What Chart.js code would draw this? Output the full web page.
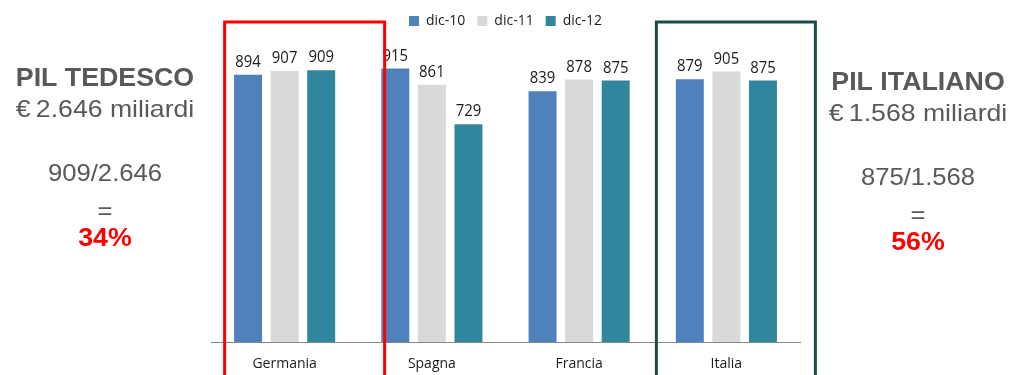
<!DOCTYPE html>
<html lang="it">
<head>
<meta charset="utf-8">
<title>Debito pubblico e PIL</title>
<script src="https://cdn.jsdelivr.net/npm/chart.js@4.4.1/dist/chart.umd.min.js"></script>
<style>
  html, body { margin: 0; padding: 0; background: #fff; }
  #wrap { position: relative; width: 1010px; height: 375px; }
</style>
</head>
<body>
<div id="wrap"><canvas id="chart" width="1010" height="375"></canvas></div>
<script>
/* Debito pubblico per paese (miliardi di euro), tre rilevazioni di fine anno. */
const PAESI = ["Germania", "Spagna", "Francia", "Italia"];
const SERIE = ["dic-10", "dic-11", "dic-12"];
const DIC10 = [894, 915, 839, 879];
const DIC11 = [907, 861, 878, 905];
const DIC12 = [909, 729, 875, 875];
const COLORI = ["#4f81bd", "#d9d9d9", "#31859c"];

// testi laterali: confronto debito / PIL
const BLOCCO_DE = ["PIL TEDESCO", "€\u20092.646 miliardi", "909/2.646", "=", "34%"];
const BLOCCO_IT = ["PIL ITALIANO", "€\u20091.568 miliardi", "875/1.568", "=", "56%"];

const GRIGIO = "#595959";
const SANS = "'Liberation Sans', Arial, sans-serif";
const LBL = "'Open Sans', 'Noto Sans', sans-serif";

// spazio extra sotto la legenda
const spazioLegenda = {
  id: "spazioLegenda",
  beforeInit(chart) {
    const fit = chart.legend.fit;
    chart.legend.fit = function () {
      fit.bind(chart.legend)();
      this.height += 4;
    };
  },
};

const etichette = {
  id: "etichette",
  afterDatasetsDraw(chart) {
    const { ctx } = chart;
    ctx.save();
    ctx.font = `16px ${LBL}`;
    ctx.fillStyle = "#1a1a1a";
    ctx.textAlign = "center";
    ctx.textBaseline = "alphabetic";
    chart.data.datasets.forEach((ds, i) => {
      chart.getDatasetMeta(i).data.forEach((bar, j) => {
        ctx.save();
        ctx.translate(bar.x, bar.y - 7);
        ctx.scale(0.93, 1);
        ctx.fillText(String(ds.data[j]), 0, 0);
        ctx.restore();
      });
    });
    ctx.restore();
  },
};

const riquadri = {
  id: "riquadri",
  afterDraw(chart) {
    const { ctx } = chart;
    const x = chart.scales.x;
    ctx.save();
    ctx.lineWidth = 3;
    // riquadro Germania (rosso) e Italia (scuro)
    const box = (idx, sx, dx, col) => {
      const cx = x.getPixelForValue(idx);
      ctx.strokeStyle = col;
      ctx.strokeRect(cx - sx, 22, sx + dx, 380);
    };
    box(0, 60, 100, "#ff0000");
    box(3, 70, 89, "#1f4a4a");

    const riga = (txt, cx, y, font, col, sx = 1.07) => {
      ctx.save();
      ctx.translate(cx, y);
      ctx.scale(sx, 1);
      ctx.font = font;
      ctx.fillStyle = col;
      ctx.fillText(txt, 0, 0);
      ctx.restore();
    };
    const blocco = (righe, cx, dy) => {
      ctx.textAlign = "center";
      ctx.textBaseline = "alphabetic";
      riga(righe[0], cx, 86 + dy, `bold 25px ${SANS}`, GRIGIO);
      riga(righe[1], cx, 117 + dy, `24px ${SANS}`, GRIGIO, 1.11);
      riga(righe[2], cx, 181 + dy, `24px ${SANS}`, GRIGIO);
      riga(righe[3], cx, 219 + dy, `24px ${SANS}`, GRIGIO);
      riga(righe[4], cx, 246 + dy, `bold 25px ${SANS}`, "#ff0000");
    };
    blocco(BLOCCO_DE, 105, 0);
    blocco(BLOCCO_IT, 918, 4);
    ctx.restore();
  },
};

new Chart(document.getElementById("chart").getContext("2d"), {
  type: "bar",
  data: {
    labels: PAESI,
    datasets: [DIC10, DIC11, DIC12].map((d, i) => ({
      label: SERIE[i], data: d, backgroundColor: COLORI[i],
      borderWidth: 1, borderColor: "rgba(255,255,255,0.4)",
      categoryPercentage: 0.745, barPercentage: 0.82,
    })),
  },
  options: {
    responsive: false, animation: false, devicePixelRatio: 1,
    layout: { padding: { left: 211, right: 210, top: 2, bottom: 0 } },
    plugins: {
      legend: {
        position: "top",
        labels: {
          boxWidth: 10, boxHeight: 10, padding: 12, color: "#1a1a1a",
          font: { family: LBL, size: 14 },
          generateLabels: (chart) => chart.data.datasets.map((ds, i) => ({
            text: ds.label, fillStyle: ds.backgroundColor, strokeStyle: ds.backgroundColor,
            lineWidth: 0, datasetIndex: i, fontColor: "#1a1a1a",
          })),
        },
      },
      tooltip: { enabled: false },
    },
    scales: {
      x: {
        grid: { display: false, drawTicks: false },
        border: { display: true, color: "#868686", width: 1 },
        ticks: { color: "#1a1a1a", font: { family: LBL, size: 14 }, padding: 14 },
        afterFit: (scale) => { scale.height = 33; },
      },
      y: { display: false, min: 0, max: 1000 },
    },
  },
  plugins: [spazioLegenda, etichette, riquadri],
});
</script>
</body>
</html>
